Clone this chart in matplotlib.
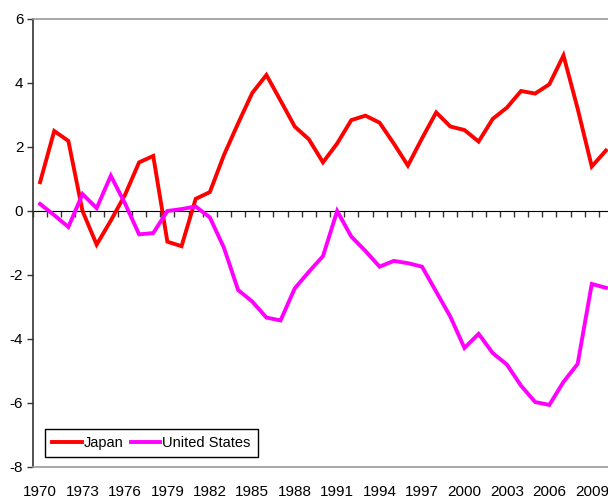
import numpy as np
import matplotlib
matplotlib.use('Agg')
import matplotlib.pyplot as plt

plt.rcParams['font.family'] = ['Liberation Sans', 'DejaVu Sans']
plt.rcParams['axes.unicode_minus'] = False

years = np.arange(1970, 2011)
japan = [0.9, 2.5, 2.19, 0.0, -1.05, -0.3, 0.5, 1.52, 1.72, -0.96,
         -1.1, 0.38, 0.59, 1.75, 2.74, 3.69, 4.25, 3.45, 2.64, 2.24,
         1.52, 2.11, 2.84, 2.98, 2.76, 2.11, 1.42, 2.27, 3.08, 2.64,
         2.53, 2.17, 2.88, 3.23, 3.75, 3.67, 3.96, 4.86, 3.2, 1.39,
         1.89]
usa = [0.22, -0.13, -0.5, 0.53, 0.09, 1.1, 0.24, -0.73, -0.69, 0.0,
       0.06, 0.14, -0.2, -1.15, -2.47, -2.83, -3.33, -3.42, -2.42, -1.9,
       -1.41, 0.0, -0.8, -1.25, -1.74, -1.56, -1.63, -1.74, -2.52, -3.3,
       -4.28, -3.84, -4.44, -4.8, -5.46, -5.97, -6.06, -5.34, -4.78, -2.28,
       -2.4]
label_years = np.arange(1970, 2010, 3)

fig = plt.figure(figsize=(6.08, 4.99), dpi=100)
ax = fig.add_axes([33/608, 32/499, 580/608, 448/499])

ax.plot(years, japan, color='#ff0000', lw=2.8, label='Japan', solid_joinstyle='miter')
ax.plot(years, usa, color='#ff00ff', lw=2.8, label='United States', solid_joinstyle='miter')

ax.set_xlim(1969.5, 2010.5)
ax.set_ylim(-8, 6)
ax.set_yticks(np.arange(-8, 7, 2))
ax.set_xticks(label_years)
ax.tick_params(axis='x', length=0, pad=13, labelsize=11)
ax.tick_params(axis='y', length=4, width=1, color='#333333', labelsize=11, pad=3)

ax.spines['left'].set_color('#333333')
ax.spines['left'].set_linewidth(1.2)
for s in ['top', 'bottom', 'right']:
    ax.spines[s].set_color('#999999')
    ax.spines[s].set_linewidth(1.2)

# category axis crossing at zero
zero = ax.secondary_xaxis(8/14)
zero.set_xticks(np.arange(1969.5, 2011, 1))
zero.tick_params(axis='x', length=4, width=1, color='#333333', labelbottom=False,
                 labeltop=False, direction='out', bottom=True, top=False)
zero.spines['bottom'].set_color('#555555')
zero.spines['bottom'].set_linewidth(1.2)

leg = ax.legend(loc='lower left', bbox_to_anchor=(0.021, 0.022), ncol=2,
                frameon=True, fancybox=False, framealpha=1, edgecolor='#000000',
                fontsize=10.5, handlelength=2.0, handletextpad=0.15,
                columnspacing=0.5, borderpad=0.5, borderaxespad=0)
leg.get_frame().set_linewidth(1.0)

fig.savefig('out.png', dpi=100)
